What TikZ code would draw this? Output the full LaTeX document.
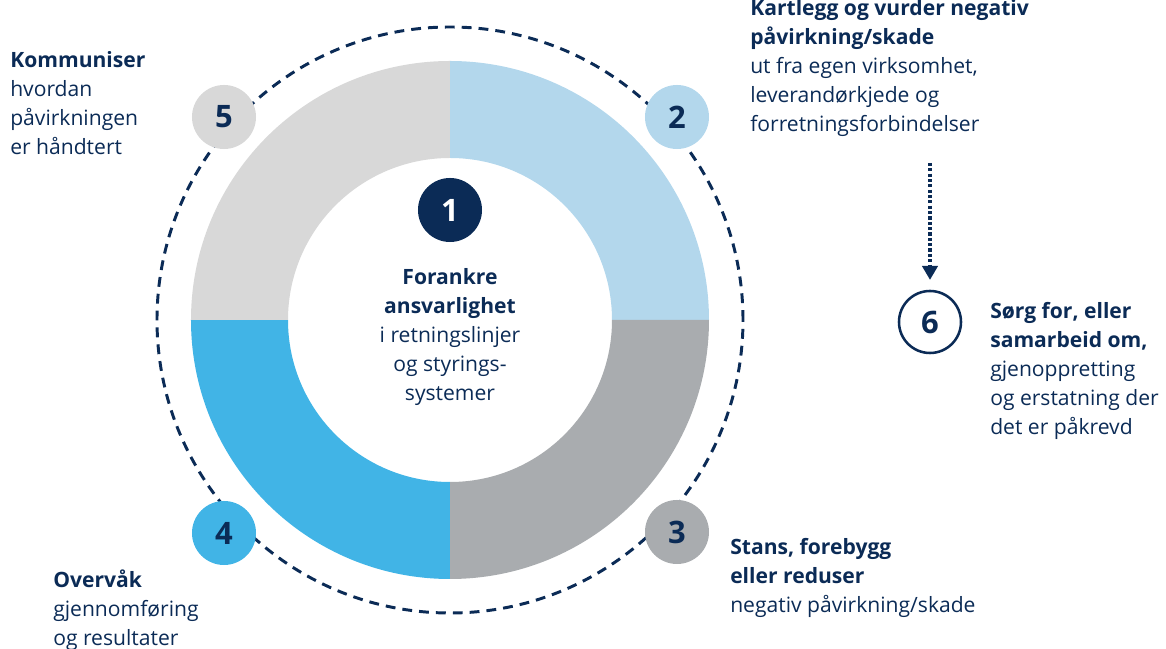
\documentclass[tikz,border=0pt]{standalone}
\usepackage{fontspec}
\setmainfont{Open Sans}
\usepackage{tikz}
\usetikzlibrary{arrows.meta, positioning}
\definecolor{navy}{HTML}{0B2B56}
\definecolor{quartwo}{HTML}{B3D7EC}
\definecolor{quarthree}{HTML}{A9ACAF}
\definecolor{quarfour}{HTML}{41B4E6}
\definecolor{quarfive}{HTML}{D8D8D8}
\tikzset{
  numdisc/.style={circle, minimum size=1.6cm, inner sep=0pt, text=navy,
    font=\fontsize{22}{26}\selectfont\bfseries},
  blurb/.style={anchor=north west, align=left, inner sep=0pt, text=navy,
    font=\fontsize{15}{20.6}\selectfont}
}

\begin{document}
\begin{tikzpicture}[x=0.025cm, y=0.025cm]
  \useasboundingbox (-450,-329) rectangle (716,320);

  % Ring quarters
  \foreach \a/\c in {0/quartwo, 270/quarthree, 180/quarfour, 90/quarfive}
    \fill[\c] (\a:162) -- (\a:259)
      arc[start angle=\a, end angle=\a+90, radius=259]
      -- ({\a+90}:162)
      arc[start angle=\a+90, end angle=\a, radius=162] -- cycle;

  % Dashed orbit
  \draw[navy, line width=2.1pt, dash pattern=on 7pt off 5pt]
    (0,0) circle[radius=293];

  % Step discs
  \node[numdisc, fill=navy, text=white] (one) at (0,110) {1};
  \node[numdisc, fill=quartwo] (two) at (227,203) {2};
  \node[numdisc, fill=quarthree] (three) at (227,-212) {3};
  \node[numdisc, fill=quarfour] (four) at (-226,-213) {4};
  \node[numdisc, fill=quarfive] (five) at (-226,203) {5};
  \node[numdisc, draw=navy, line width=1.8pt, fill=white, minimum size=1.55cm]
    (six) at (480,-2) {6};

  % Texts
  \node[blurb, anchor=north, align=center] (onetext) at (0,52)
    {\textbf{Forankre}\\\textbf{ansvarlighet}\\i retningslinjer\\og styrings-\\systemer};
  \node[blurb] (twotext) at (300,321)
    {\textbf{Kartlegg og vurder negativ}\\\textbf{påvirkning/skade}\\ut fra egen virksomhet,\\leverandørkjede og\\forretningsforbindelser};
  \node[blurb] (threetext) at (280,-218)
    {\textbf{Stans, forebygg}\\\textbf{eller reduser}\\negativ påvirkning/skade};
  \node[blurb] (fourtext) at (-397,-250)
    {\textbf{Overvåk}\\gjennomføring\\og resultater};
  \node[blurb] (fivetext) at (-440,269)
    {\textbf{Kommuniser}\\hvordan\\påvirkningen\\er håndtert};
  \node[blurb] (sixtext) at (540,18)
    {\textbf{Sørg for, eller}\\\textbf{samarbeid om,}\\gjenoppretting\\og erstatning der\\det er påkrevd};

  % Dotted arrow down to step six
  \coordinate (arrowtop) at (480,157);
  \draw[navy, line width=2.2pt, dash pattern=on 2.2pt off 1.6pt,
    -{Triangle[width=11pt, length=10pt]}, shorten >=7pt] (arrowtop) -- (six);
\end{tikzpicture}
\end{document}
